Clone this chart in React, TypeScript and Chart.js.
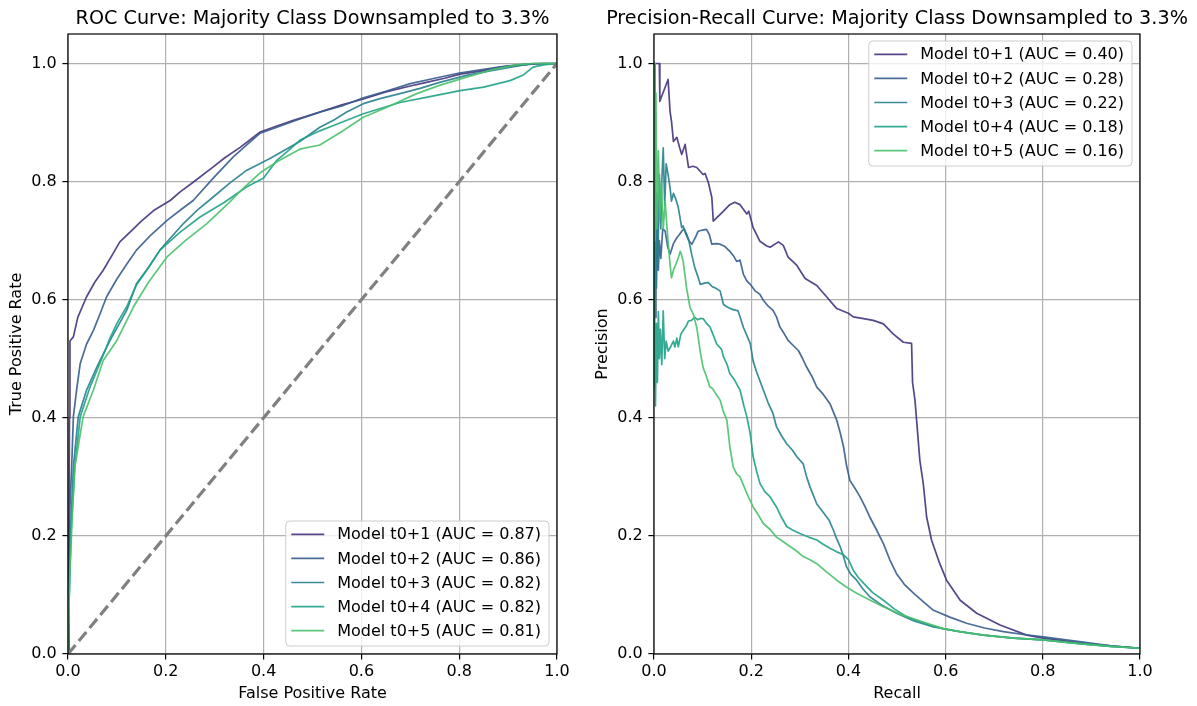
import React, { useEffect, useRef } from 'react';
import { Chart, registerables } from 'chart.js';

Chart.register(...registerables);

const FONT = "'DejaVu Sans', 'Liberation Sans', sans-serif";

// Shared series metadata
const modelLabels = ['Model t0+1', 'Model t0+2', 'Model t0+3', 'Model t0+4', 'Model t0+5'];
const modelColors = ['#46327e', '#365c8d', '#277f8e', '#1fa187', '#4ac16d'];
const rocAuc = [0.87, 0.86, 0.82, 0.82, 0.81];
const prAuc = [0.4, 0.28, 0.22, 0.18, 0.16];
const axisTicks = [0, 0.2, 0.4, 0.6, 0.8, 1.0];

// ROC curves (false positive rate, true positive rate)
const rocFpr1 = [0, 0.002, 0.003, 0.004, 0.011, 0.02, 0.038, 0.055, 0.072, 0.09, 0.106, 0.13, 0.15, 0.175, 0.209, 0.23, 0.256, 0.297, 0.32, 0.352, 0.393, 0.43, 0.461, 0.515, 0.56, 0.604, 0.65, 0.7, 0.733, 0.77, 0.802, 0.85, 0.883, 0.93, 0.965, 1.0];
const rocTpr1 = [0, 0.2, 0.4, 0.53, 0.537, 0.57, 0.605, 0.63, 0.65, 0.675, 0.698, 0.717, 0.733, 0.751, 0.768, 0.783, 0.799, 0.825, 0.84, 0.858, 0.884, 0.895, 0.904, 0.918, 0.93, 0.94, 0.952, 0.962, 0.968, 0.975, 0.982, 0.988, 0.994, 0.998, 1.0, 1.0];

const rocFpr2 = [0, 0.002, 0.004, 0.0075, 0.011, 0.018, 0.025, 0.038, 0.052, 0.065, 0.079, 0.1, 0.12, 0.14, 0.17, 0.202, 0.23, 0.256, 0.297, 0.338, 0.365, 0.393, 0.43, 0.474, 0.52, 0.56, 0.604, 0.65, 0.7, 0.75, 0.8, 0.85, 0.9, 0.95, 0.98, 1.0];
const rocTpr2 = [0, 0.15, 0.25, 0.317, 0.402, 0.45, 0.492, 0.525, 0.548, 0.575, 0.605, 0.635, 0.66, 0.684, 0.71, 0.734, 0.752, 0.768, 0.806, 0.842, 0.862, 0.882, 0.893, 0.906, 0.919, 0.928, 0.942, 0.953, 0.966, 0.975, 0.984, 0.99, 0.996, 0.999, 1.0, 1.0];

const rocFpr3 = [0, 0.003, 0.006, 0.011, 0.021, 0.038, 0.059, 0.072, 0.086, 0.12, 0.14, 0.165, 0.188, 0.21, 0.236, 0.265, 0.297, 0.33, 0.365, 0.413, 0.44, 0.474, 0.515, 0.543, 0.57, 0.604, 0.64, 0.679, 0.72, 0.76, 0.815, 0.86, 0.9, 0.95, 1.0];
const rocTpr3 = [0, 0.12, 0.22, 0.317, 0.402, 0.447, 0.486, 0.508, 0.531, 0.582, 0.627, 0.655, 0.684, 0.705, 0.729, 0.752, 0.774, 0.797, 0.819, 0.839, 0.852, 0.868, 0.892, 0.904, 0.918, 0.932, 0.941, 0.949, 0.958, 0.968, 0.98, 0.987, 0.993, 1.0, 1.0];

const rocFpr4 = [0, 0.003, 0.007, 0.014, 0.025, 0.045, 0.065, 0.086, 0.1, 0.12, 0.14, 0.165, 0.188, 0.23, 0.27, 0.32, 0.365, 0.4, 0.427, 0.45, 0.474, 0.515, 0.543, 0.604, 0.679, 0.74, 0.802, 0.85, 0.904, 0.93, 0.951, 0.975, 1.0];
const rocTpr4 = [0, 0.12, 0.22, 0.317, 0.402, 0.452, 0.492, 0.535, 0.56, 0.588, 0.625, 0.655, 0.684, 0.715, 0.74, 0.765, 0.791, 0.806, 0.836, 0.852, 0.87, 0.886, 0.895, 0.915, 0.934, 0.944, 0.954, 0.96, 0.971, 0.98, 0.994, 0.998, 1.0];

const rocFpr5 = [0, 0.003, 0.008, 0.014, 0.031, 0.052, 0.072, 0.1, 0.134, 0.165, 0.202, 0.24, 0.284, 0.33, 0.36, 0.393, 0.43, 0.474, 0.515, 0.56, 0.604, 0.65, 0.713, 0.76, 0.815, 0.87, 0.92, 0.95, 1.0];
const rocTpr5 = [0, 0.12, 0.22, 0.317, 0.402, 0.447, 0.497, 0.531, 0.588, 0.63, 0.672, 0.7, 0.729, 0.765, 0.79, 0.815, 0.835, 0.855, 0.862, 0.885, 0.909, 0.925, 0.949, 0.963, 0.977, 0.99, 0.998, 1.0, 1.0];

// Chance diagonal
const chanceLine = [0, 1];

// Precision-recall curves (recall, precision)
const prRecall1 = [0, 0.011, 0.012, 0.029, 0.033, 0.036, 0.04, 0.047, 0.053, 0.057, 0.064, 0.071, 0.08, 0.088, 0.101, 0.105, 0.112, 0.119, 0.122, 0.133, 0.143, 0.156, 0.166, 0.177, 0.191, 0.195, 0.204, 0.218, 0.232, 0.239, 0.256, 0.266, 0.276, 0.294, 0.311, 0.335, 0.355, 0.376, 0.4, 0.41, 0.431, 0.451, 0.472, 0.492, 0.513, 0.53, 0.532, 0.537, 0.547, 0.554, 0.561, 0.571, 0.588, 0.602, 0.63, 0.664, 0.712, 0.767, 0.801, 0.883, 0.94, 1.0];
const prPrecision1 = [1.0, 1.0, 0.936, 0.973, 0.919, 0.902, 0.868, 0.875, 0.857, 0.846, 0.863, 0.824, 0.826, 0.824, 0.812, 0.814, 0.798, 0.773, 0.733, 0.742, 0.75, 0.761, 0.765, 0.761, 0.745, 0.75, 0.722, 0.699, 0.691, 0.689, 0.698, 0.692, 0.672, 0.658, 0.636, 0.624, 0.605, 0.585, 0.577, 0.571, 0.568, 0.565, 0.559, 0.542, 0.528, 0.526, 0.46, 0.43, 0.328, 0.289, 0.232, 0.193, 0.153, 0.125, 0.091, 0.069, 0.049, 0.032, 0.027, 0.018, 0.014, 0.0097];

const prRecall2 = [0, 0.001, 0.002, 0.003, 0.004, 0.005, 0.007, 0.009, 0.011, 0.014, 0.018, 0.023, 0.028, 0.033, 0.04, 0.047, 0.052, 0.057, 0.062, 0.067, 0.072, 0.078, 0.085, 0.091, 0.1, 0.108, 0.114, 0.119, 0.128, 0.136, 0.146, 0.156, 0.163, 0.17, 0.177, 0.184, 0.191, 0.198, 0.208, 0.218, 0.225, 0.235, 0.245, 0.252, 0.259, 0.266, 0.276, 0.287, 0.297, 0.306, 0.314, 0.325, 0.335, 0.348, 0.362, 0.369, 0.376, 0.383, 0.39, 0.396, 0.403, 0.414, 0.424, 0.434, 0.444, 0.458, 0.472, 0.485, 0.499, 0.515, 0.534, 0.555, 0.575, 0.61, 0.643, 0.68, 0.719, 0.76, 0.801, 0.883, 0.94, 1.0];
const prPrecision2 = [1.0, 0.6, 0.75, 0.57, 0.7, 0.62, 0.733, 0.65, 0.7, 0.67, 0.72, 0.716, 0.69, 0.677, 0.695, 0.705, 0.71, 0.716, 0.72, 0.711, 0.7, 0.694, 0.705, 0.716, 0.718, 0.719, 0.71, 0.694, 0.695, 0.694, 0.69, 0.682, 0.675, 0.665, 0.667, 0.643, 0.632, 0.626, 0.615, 0.609, 0.599, 0.589, 0.582, 0.571, 0.554, 0.545, 0.531, 0.522, 0.514, 0.5, 0.486, 0.47, 0.452, 0.44, 0.424, 0.41, 0.396, 0.375, 0.351, 0.32, 0.294, 0.28, 0.266, 0.25, 0.232, 0.21, 0.187, 0.16, 0.136, 0.118, 0.103, 0.088, 0.074, 0.062, 0.052, 0.044, 0.038, 0.033, 0.029, 0.02, 0.014, 0.0097];

const prRecall3 = [0, 0.002, 0.004, 0.006, 0.008, 0.011, 0.014, 0.016, 0.019, 0.022, 0.025, 0.029, 0.033, 0.036, 0.04, 0.045, 0.05, 0.057, 0.06, 0.066, 0.072, 0.078, 0.084, 0.09, 0.095, 0.104, 0.112, 0.12, 0.126, 0.136, 0.143, 0.15, 0.16, 0.173, 0.177, 0.184, 0.198, 0.204, 0.211, 0.225, 0.235, 0.245, 0.252, 0.262, 0.273, 0.285, 0.294, 0.307, 0.314, 0.321, 0.335, 0.348, 0.36, 0.369, 0.376, 0.383, 0.39, 0.396, 0.405, 0.417, 0.43, 0.444, 0.47, 0.499, 0.535, 0.575, 0.62, 0.678, 0.74, 0.801, 0.88, 0.94, 1.0];
const prPrecision3 = [1.0, 0.7, 0.62, 0.78, 0.66, 0.812, 0.72, 0.8, 0.857, 0.76, 0.83, 0.812, 0.79, 0.767, 0.78, 0.77, 0.756, 0.722, 0.725, 0.71, 0.699, 0.675, 0.654, 0.64, 0.626, 0.628, 0.629, 0.622, 0.62, 0.615, 0.592, 0.588, 0.584, 0.581, 0.571, 0.553, 0.526, 0.496, 0.478, 0.447, 0.425, 0.407, 0.385, 0.37, 0.356, 0.345, 0.334, 0.322, 0.3, 0.283, 0.254, 0.24, 0.227, 0.21, 0.195, 0.182, 0.165, 0.148, 0.135, 0.125, 0.11, 0.097, 0.082, 0.069, 0.056, 0.046, 0.039, 0.032, 0.027, 0.024, 0.017, 0.013, 0.0097];

const prRecall4 = [0, 0.001, 0.002, 0.003, 0.005, 0.007, 0.009, 0.011, 0.013, 0.016, 0.019, 0.022, 0.025, 0.029, 0.034, 0.04, 0.043, 0.047, 0.05, 0.055, 0.06, 0.066, 0.071, 0.077, 0.084, 0.09, 0.095, 0.101, 0.108, 0.115, 0.122, 0.129, 0.139, 0.143, 0.15, 0.156, 0.165, 0.177, 0.185, 0.191, 0.198, 0.204, 0.211, 0.218, 0.228, 0.239, 0.252, 0.262, 0.273, 0.285, 0.3, 0.318, 0.335, 0.348, 0.362, 0.376, 0.39, 0.4, 0.41, 0.42, 0.431, 0.45, 0.472, 0.495, 0.52, 0.555, 0.595, 0.635, 0.678, 0.74, 0.801, 0.88, 0.94, 1.0];
const prPrecision4 = [1.0, 0.45, 0.52, 0.42, 0.56, 0.46, 0.58, 0.5, 0.55, 0.49, 0.581, 0.5, 0.53, 0.513, 0.52, 0.53, 0.52, 0.535, 0.52, 0.541, 0.548, 0.555, 0.564, 0.565, 0.57, 0.566, 0.568, 0.568, 0.56, 0.554, 0.54, 0.525, 0.516, 0.503, 0.491, 0.475, 0.465, 0.447, 0.42, 0.402, 0.373, 0.334, 0.31, 0.289, 0.275, 0.266, 0.249, 0.232, 0.216, 0.21, 0.204, 0.198, 0.193, 0.186, 0.179, 0.173, 0.168, 0.16, 0.142, 0.13, 0.12, 0.104, 0.091, 0.076, 0.063, 0.052, 0.043, 0.037, 0.032, 0.027, 0.024, 0.017, 0.013, 0.0097];

const prRecall5 = [0, 0.002, 0.004, 0.006, 0.009, 0.012, 0.015, 0.019, 0.023, 0.026, 0.029, 0.033, 0.036, 0.04, 0.045, 0.05, 0.054, 0.057, 0.06, 0.064, 0.067, 0.074, 0.081, 0.088, 0.095, 0.101, 0.108, 0.115, 0.12, 0.128, 0.136, 0.143, 0.15, 0.156, 0.163, 0.17, 0.177, 0.191, 0.204, 0.215, 0.225, 0.24, 0.252, 0.266, 0.28, 0.294, 0.307, 0.32, 0.335, 0.355, 0.376, 0.395, 0.417, 0.445, 0.472, 0.505, 0.54, 0.595, 0.635, 0.678, 0.74, 0.801, 0.88, 0.94, 1.0];
const prPrecision5 = [1.0, 0.7, 0.95, 0.72, 0.852, 0.74, 0.8, 0.72, 0.767, 0.73, 0.699, 0.66, 0.637, 0.65, 0.66, 0.671, 0.682, 0.675, 0.665, 0.64, 0.62, 0.587, 0.575, 0.553, 0.513, 0.485, 0.47, 0.452, 0.45, 0.44, 0.43, 0.41, 0.396, 0.351, 0.317, 0.305, 0.3, 0.272, 0.249, 0.235, 0.221, 0.21, 0.198, 0.19, 0.182, 0.174, 0.165, 0.16, 0.153, 0.139, 0.125, 0.114, 0.103, 0.091, 0.08, 0.068, 0.058, 0.043, 0.037, 0.032, 0.027, 0.024, 0.017, 0.013, 0.0097];

const rocSeries = [
  [rocFpr1, rocTpr1],
  [rocFpr2, rocTpr2],
  [rocFpr3, rocTpr3],
  [rocFpr4, rocTpr4],
  [rocFpr5, rocTpr5],
];
const prSeries = [
  [prRecall1, prPrecision1],
  [prRecall2, prPrecision2],
  [prRecall3, prPrecision3],
  [prRecall4, prPrecision4],
  [prRecall5, prPrecision5],
];

const CURVE_ALPHA = 0.9;
const CURVE_WIDTH = 1.7;
const TICK_FONT = 16;
const TITLE_FONT = 19.2;

function withAlpha(hex: string, a: number) {
  const n = parseInt(hex.slice(1), 16);
  return `rgba(${(n >> 16) & 255}, ${(n >> 8) & 255}, ${n & 255}, ${a})`;
}

function toPoints(xs: number[], ys: number[]) {
  return xs.map((x, i) => ({ x, y: ys[i] }));
}

type LegendPos = 'lower right' | 'upper right';

// Draws the axes frame, the plot title and a matplotlib-like legend box.
function makeDecor(title: string, legendTexts: string[], legendPos: LegendPos) {
  return {
    id: 'decor',
    afterDatasetsDraw(chart: any) {
      const { ctx, chartArea: a } = chart;
      ctx.save();

      // frame
      ctx.strokeStyle = '#000';
      ctx.lineWidth = 1.2;
      ctx.strokeRect(a.left, a.top, a.right - a.left, a.bottom - a.top);

      // title
      ctx.fillStyle = '#000';
      ctx.font = `${TITLE_FONT}px ${FONT}`;
      ctx.textAlign = 'center';
      ctx.textBaseline = 'alphabetic';
      ctx.fillText(title, (a.left + a.right) / 2, a.top - 9.6);

      // legend
      ctx.font = `${TICK_FONT}px ${FONT}`;
      const textW = Math.max(...legendTexts.map((t) => ctx.measureText(t).width));
      const padL = 5.5;
      const handleLen = 33;
      const gap = 13;
      const padR = 8;
      const step = 24.1;
      const w = padL + handleLen + gap + textW + padR;
      const h = step * legendTexts.length + 4.5;
      const x0 = a.right - 8 - w;
      const y0 = legendPos === 'lower right' ? a.bottom - 8 - h : a.top + 7;

      ctx.beginPath();
      ctx.roundRect(x0, y0, w, h, 4);
      ctx.fillStyle = 'rgba(255,255,255,0.8)';
      ctx.fill();
      ctx.strokeStyle = '#cccccc';
      ctx.lineWidth = 1;
      ctx.stroke();

      legendTexts.forEach((t, i) => {
        const cy = y0 + 13.3 + i * step;
        ctx.beginPath();
        ctx.moveTo(x0 + padL, cy);
        ctx.lineTo(x0 + padL + handleLen, cy);
        ctx.strokeStyle = withAlpha(modelColors[i], CURVE_ALPHA);
        ctx.lineWidth = CURVE_WIDTH;
        ctx.stroke();
        ctx.fillStyle = '#000';
        ctx.textAlign = 'left';
        ctx.textBaseline = 'middle';
        ctx.fillText(t, x0 + padL + handleLen + gap, cy + 1);
      });

      ctx.restore();
    },
  };
}

function axisOptions(kind: 'x' | 'y', titleText: string, yAxisWidth: number) {
  const base: any = {
    type: 'linear',
    min: 0,
    max: kind === 'x' ? 1 : 1.05,
    afterBuildTicks: (s: any) => {
      s.ticks = axisTicks.map((value) => ({ value }));
    },
    ticks: {
      color: '#000',
      font: { family: FONT, size: TICK_FONT },
      padding: kind === 'x' ? 3 : 5.6,
      maxRotation: 0,
      autoSkip: false,
      callback: (v: any) => Number(v).toFixed(1),
    },
    grid: {
      color: '#b0b0b0',
      lineWidth: 1.2,
      tickColor: '#000',
      tickLength: 5.6,
      tickWidth: 1.2,
    },
    border: { display: false },
    title: {
      display: true,
      text: titleText,
      color: '#000',
      font: { family: FONT, size: TICK_FONT },
    },
  };
  if (kind === 'x') {
    base.position = 'bottom';
    base.afterFit = (s: any) => {
      s.height = 52;
    };
    base.title.padding = { top: 0, bottom: 2.6 };
  } else {
    base.position = 'left';
    base.afterFit = (s: any) => {
      s.width = yAxisWidth;
    };
    base.title.padding = { top: 7.4, bottom: 0 };
  }
  return base;
}

interface PanelSpec {
  title: string;
  xTitle: string;
  yTitle: string;
  series: number[][][];
  auc: number[];
  legendPos: LegendPos;
  diagonal: boolean;
  padRight: number;
}

function buildConfig(spec: PanelSpec): any {
  const datasets: any[] = spec.series.map(([xs, ys], i) => ({
    label: modelLabels[i],
    data: toPoints(xs, ys),
    showLine: true,
    borderColor: withAlpha(modelColors[i], CURVE_ALPHA),
    backgroundColor: withAlpha(modelColors[i], CURVE_ALPHA),
    borderWidth: CURVE_WIDTH,
    borderJoinStyle: 'round',
    pointRadius: 0,
    tension: 0,
    fill: false,
    order: spec.series.length - i + 1,
  }));
  if (spec.diagonal) {
    datasets.push({
      label: 'Chance',
      data: toPoints(chanceLine, chanceLine),
      showLine: true,
      borderColor: '#808080',
      borderWidth: 3.2,
      borderDash: [11.8, 5.1],
      pointRadius: 0,
      fill: false,
      order: 0,
    });
  }
  const legendTexts = spec.auc.map((v, i) => `${modelLabels[i]} (AUC = ${v.toFixed(2)})`);
  return {
    type: 'scatter',
    data: { datasets },
    options: {
      responsive: false,
      animation: false,
      events: [],
      layout: { padding: { left: 0, top: 34, right: spec.padRight, bottom: 0 } },
      plugins: {
        legend: { display: false },
        tooltip: { enabled: false },
        title: { display: false },
      },
      scales: {
        x: axisOptions('x', spec.xTitle, 68),
        y: axisOptions('y', spec.yTitle, 68),
      },
    },
    plugins: [makeDecor(spec.title, legendTexts, spec.legendPos)],
  };
}

function Panel({ left, width, spec }: { left: number; width: number; spec: PanelSpec }) {
  const ref = useRef<HTMLCanvasElement>(null);
  useEffect(() => {
    if (!ref.current) return;
    const chart = new Chart(ref.current, buildConfig(spec));
    return () => chart.destroy();
  }, []);
  return (
    <canvas
      ref={ref}
      width={width}
      height={706}
      style={{ position: 'absolute', left, top: 0, width, height: 706 }}
    />
  );
}

const rocSpec: PanelSpec = {
  title: 'ROC Curve: Majority Class Downsampled to 3.3%',
  xTitle: 'False Positive Rate',
  yTitle: 'True Positive Rate',
  series: rocSeries,
  auc: rocAuc,
  legendPos: 'lower right',
  diagonal: true,
  padRight: 29,
};

const prSpec: PanelSpec = {
  title: 'Precision-Recall Curve: Majority Class Downsampled to 3.3%',
  xTitle: 'Recall',
  yTitle: 'Precision',
  series: prSeries,
  auc: prAuc,
  legendPos: 'upper right',
  diagonal: false,
  padRight: 57,
};

export default function App() {
  return (
    <div style={{ position: 'absolute', left: 0, top: 0, width: 1197, height: 706, background: '#fff' }}>
      <Panel left={0} width={586} spec={rocSpec} />
      <Panel left={586} width={611} spec={prSpec} />
    </div>
  );
}
